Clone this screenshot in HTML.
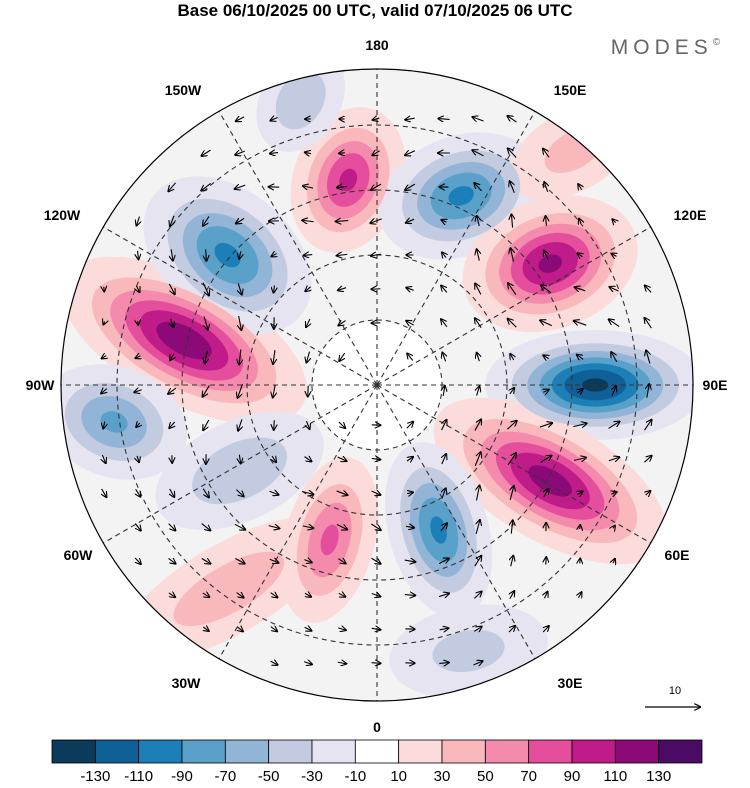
<!DOCTYPE html>
<html><head><meta charset="utf-8"><style>
body{margin:0;background:#fff;width:750px;height:783px;overflow:hidden;font-family:"Liberation Sans",sans-serif}
svg text{font-family:"Liberation Sans",sans-serif}
</style></head><body>
<svg id="c" width="750" height="783" viewBox="0 0 750 783">
<text x="375" y="16" text-anchor="middle" font-size="17" font-weight="bold">Base 06/10/2025 00 UTC, valid 07/10/2025 06 UTC</text>
<text x="668" y="54" text-anchor="middle" font-size="21" fill="#666" letter-spacing="5">MODES<tspan font-size="10" dy="-9">©</tspan></text>
<defs><clipPath id="disk"><circle cx="377" cy="385" r="316"/></clipPath>
<marker id="ah" markerWidth="6" markerHeight="6" refX="5" refY="3" orient="auto"><path d="M0,0L6,3L0,6" fill="none" stroke="#000" stroke-width="1"/></marker></defs>
<g id="map" clip-path="url(#disk)">
<circle cx="377" cy="385" r="316" fill="#f3f3f3"/>
<circle cx="377" cy="385" r="65" fill="#fff"/>
</g>
<g id="grid" fill="none" stroke="#333" stroke-width="1.1" stroke-dasharray="5,4"></g>
<g id="arrows"></g>
<circle cx="377" cy="385" r="316" fill="none" stroke="#000" stroke-width="1.2"/>
<g font-size="14" font-weight="bold" text-anchor="middle">
<text x="377" y="50">180</text><text x="183" y="95">150W</text><text x="570" y="95">150E</text>
<text x="62" y="220">120W</text><text x="690" y="220">120E</text>
<text x="40" y="390">90W</text><text x="715" y="390">90E</text>
<text x="78" y="560">60W</text><text x="677" y="560">60E</text>
<text x="186" y="688">30W</text><text x="570" y="688">30E</text><text x="377" y="732">0</text>
</g>
<text x="675" y="694" font-size="11" text-anchor="middle">10</text>
<line x1="645" y1="707" x2="700" y2="707" stroke="#000" stroke-width="1.2" marker-end="url(#ah)"/>
<g id="cbar"></g>
</svg>
<script>
const NS="http://www.w3.org/2000/svg";
const CX=377,CY=385,PXDEG=4.5;
// anomaly centres
const blobLon=[-103,-131,-172,156,125,90,61,23,-17,-82,-58,-165,140,-36,19];
const blobLat=[46,46,44,44,43,41.5,46,55,54,31,54,24.5,22,34,27.5];
const blobVal=[125,-95,95,-95,115,-135,120,-95,75,-75,-50,-50,40,45,-40];
const blobA=[135,95,75,85,90,110,130,90,85,75,90,55,70,120,80];
const blobB=[62,65,55,60,65,55,60,50,45,55,50,40,40,45,45];
const blobRot=[28,40,-70,-20,-20,0,30,75,-75,20,-25,-60,-30,-30,-10];
const levels=[10,30,50,70,90,110,130];
const negCol=["#e6e4f0","#c3cbe0","#92b4d6","#5aa1c9","#1d7fb8","#0f6096","#0b3a5a"];
const posCol=["#fbdcda","#f9b8bc","#f48aac","#e54e9c","#c01c89","#8b0a78","#4b0a64"];
const cbLabels=[-130,-110,-90,-70,-50,-30,-10,10,30,50,70,90,110,130];
const cbColors=["#0b3a5a","#0f6096","#1d7fb8","#5aa1c9","#92b4d6","#c3cbe0","#e6e4f0","#ffffff","#fbdcda","#f9b8bc","#f48aac","#e54e9c","#c01c89","#8b0a78","#4b0a64"];
function proj(lon,lat){const r=(90-lat)*PXDEG,a=lon*Math.PI/180;return [CX+r*Math.sin(a),CY+r*Math.cos(a)];}
const map=document.getElementById('map');
levels.forEach((L,li)=>{
  blobVal.forEach((v,i)=>{
    const av=Math.abs(v); if(av<=L)return;
    const s=Math.sqrt(Math.log(av/L)/Math.log(av/10));
    const [x,y]=proj(blobLon[i],blobLat[i]);
    const e=document.createElementNS(NS,'ellipse');
    e.setAttribute('cx',x);e.setAttribute('cy',y);
    e.setAttribute('rx',blobA[i]*s);e.setAttribute('ry',blobB[i]*s);
    e.setAttribute('transform',`rotate(${blobRot[i]} ${x} ${y})`);
    e.setAttribute('fill',v>0?posCol[li]:negCol[li]);
    
    
    map.appendChild(e);
  });
});
const grid=document.getElementById('grid');
[65,130,195,260].forEach(r=>{const c=document.createElementNS(NS,'circle');c.setAttribute('cx',CX);c.setAttribute('cy',CY);c.setAttribute('r',r);


grid.appendChild(c);});
for(let lon=0;lon<360;lon+=30){const a=lon*Math.PI/180;const l=document.createElementNS(NS,'line');
l.setAttribute('x1',CX);l.setAttribute('y1',CY);l.setAttribute('x2',CX+316*Math.sin(a));l.setAttribute('y2',CY+316*Math.cos(a));


grid.appendChild(l);}
// wind vectors derived from anomalies
const ag=document.getElementById('arrows');
for(let gy=85;gy<700;gy+=34){for(let gx=70;gx<700;gx+=34){
  const dx0=gx-CX,dy0=gy-CY; if(dx0*dx0+dy0*dy0>300*300||dx0*dx0+dy0*dy0<40*40)continue;
  let u=0,w=0;
  blobVal.forEach((v,i)=>{const [x,y]=proj(blobLon[i],blobLat[i]);const dx=gx-x,dy=gy-y;const s2=blobA[i]*blobB[i];const f=Math.exp(-(dx*dx+dy*dy)/s2)*v/1500;u+=-dy*f;w+=dx*f;});
  const rr=Math.hypot(dx0,dy0);u+=dy0/rr*4;w+=-dx0/rr*4;
  let m=Math.hypot(u,w);if(m<0.5)continue;const len=Math.min(28,m*2.2);u=u/m*len;w=w/m*len;
  const l=document.createElementNS(NS,'line');
  l.setAttribute('x1',gx-u/2);l.setAttribute('y1',gy-w/2);l.setAttribute('x2',gx+u/2);l.setAttribute('y2',gy+w/2);
  l.setAttribute('stroke','#000');l.setAttribute('stroke-width','1.1');l.setAttribute('marker-end','url(#ah)');
  
  
  ag.appendChild(l);
}}
const cb=document.getElementById('cbar');const bx=52,bw=650/15;
cbColors.forEach((c,i)=>{const r=document.createElementNS(NS,'rect');r.setAttribute('x',bx+i*bw);r.setAttribute('y',740);r.setAttribute('width',bw);r.setAttribute('height',23);r.setAttribute('fill',c);r.setAttribute('stroke','#000');r.setAttribute('stroke-width','0.8');


cb.appendChild(r);});
cbLabels.forEach((t,i)=>{const x=document.createElementNS(NS,'text');x.setAttribute('x',bx+(i+1)*bw);x.setAttribute('y',781);x.setAttribute('text-anchor','middle');x.setAttribute('font-size','15');x.textContent=t;


cb.appendChild(x);});
</script>
</body></html>
